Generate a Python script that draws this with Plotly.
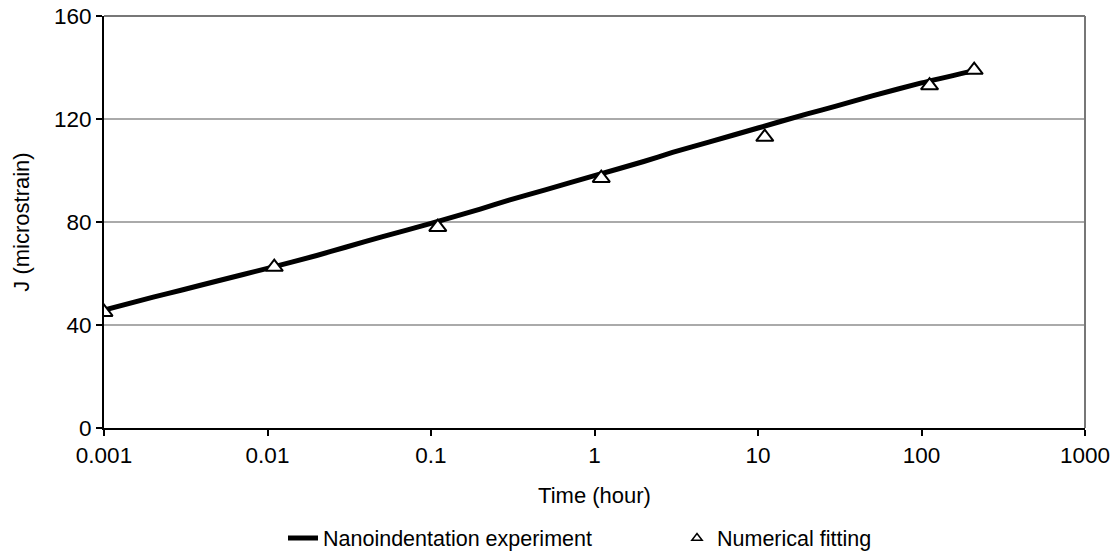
import plotly.graph_objects as go

# Nanoindentation experiment (continuous curve)
exp_time = [0.001, 0.002, 0.003, 0.005, 0.01, 0.02, 0.03, 0.05, 0.1, 0.2, 0.3, 0.5,
            1, 2, 3, 5, 10, 20, 30, 50, 100, 200]
exp_J = [45.8, 50.8, 53.6, 57.2, 62, 67, 70.2, 74.2, 79.5, 85, 88.5, 92.5,
         98, 103.5, 107, 111, 116.5, 122, 125, 129, 134, 138.5]

# Numerical fitting (markers)
fit_time = [0.001, 0.011, 0.11, 1.1, 11, 112, 210]
fit_J = [45, 62.5, 78, 97, 113, 133, 139]

FONT = "Liberation Sans, Arial, sans-serif"

fig = go.Figure()
fig.add_trace(go.Scatter(
    x=exp_time, y=exp_J, mode="lines", name="Nanoindentation experiment",
    line=dict(color="black", width=5, shape="spline", smoothing=0.6),
))
fig.add_trace(go.Scatter(
    x=fit_time, y=fit_J, mode="markers", name="Numerical fitting",
    marker=dict(symbol="triangle-up", size=15, color="white",
                line=dict(color="black", width=2)),
    showlegend=False,
))
fig.add_trace(go.Scatter(
    x=[None], y=[None], mode="markers", name="Numerical fitting",
    marker=dict(symbol="triangle-up", size=9, color="white",
                line=dict(color="black", width=1.5)),
))

fig.update_layout(
    width=1110, height=555,
    margin=dict(l=104, r=25, t=16, b=127, autoexpand=False),
    paper_bgcolor="white", plot_bgcolor="white",
    font=dict(family=FONT, color="black", size=22),
    showlegend=True,
    legend=dict(orientation="h", xref="container", yref="container",
                x=283 / 1110, xanchor="left", y=1 - 538 / 555, yanchor="middle",
                font=dict(size=21.5), entrywidth=349, entrywidthmode="pixels",
                bgcolor="rgba(0,0,0,0)"),
    xaxis=dict(
        type="log", range=[-3, 3], automargin=False, ticklabeloverflow="allow",
        tickvals=[0.001, 0.01, 0.1, 1, 10, 100, 1000],
        ticktext=["0.001", "0.01", "0.1", "1", "10", "100", "1000"],
        ticks="outside", ticklen=6, tickwidth=1.5, tickcolor="black",
        tickfont=dict(size=22.5),
        showline=True, linecolor="black", linewidth=2,
        showgrid=False, zeroline=False,
        title=dict(text="Time (hour)", font=dict(size=22), standoff=21),
    ),
    yaxis=dict(
        range=[0, 160], tickvals=[0, 40, 80, 120, 160], automargin=False,
        ticklabeloverflow="allow",
        ticks="outside", ticklen=6, tickwidth=1.5, tickcolor="black",
        tickfont=dict(size=22.5),
        showline=True, linecolor="black", linewidth=2,
        showgrid=True, gridcolor="#aaaaaa", gridwidth=1.5,
        zeroline=False,
        title=dict(text="J (microstrain)", font=dict(size=22), standoff=18),
    ),
)

# gray frame on top and right
fig.add_shape(type="line", xref="paper", yref="paper", x0=0, x1=1, y0=1, y1=1,
              line=dict(color="#777777", width=2))
fig.add_shape(type="line", xref="paper", yref="paper", x0=1, x1=1, y0=0, y1=1,
              line=dict(color="#777777", width=2))

fig.write_html("out.html")
